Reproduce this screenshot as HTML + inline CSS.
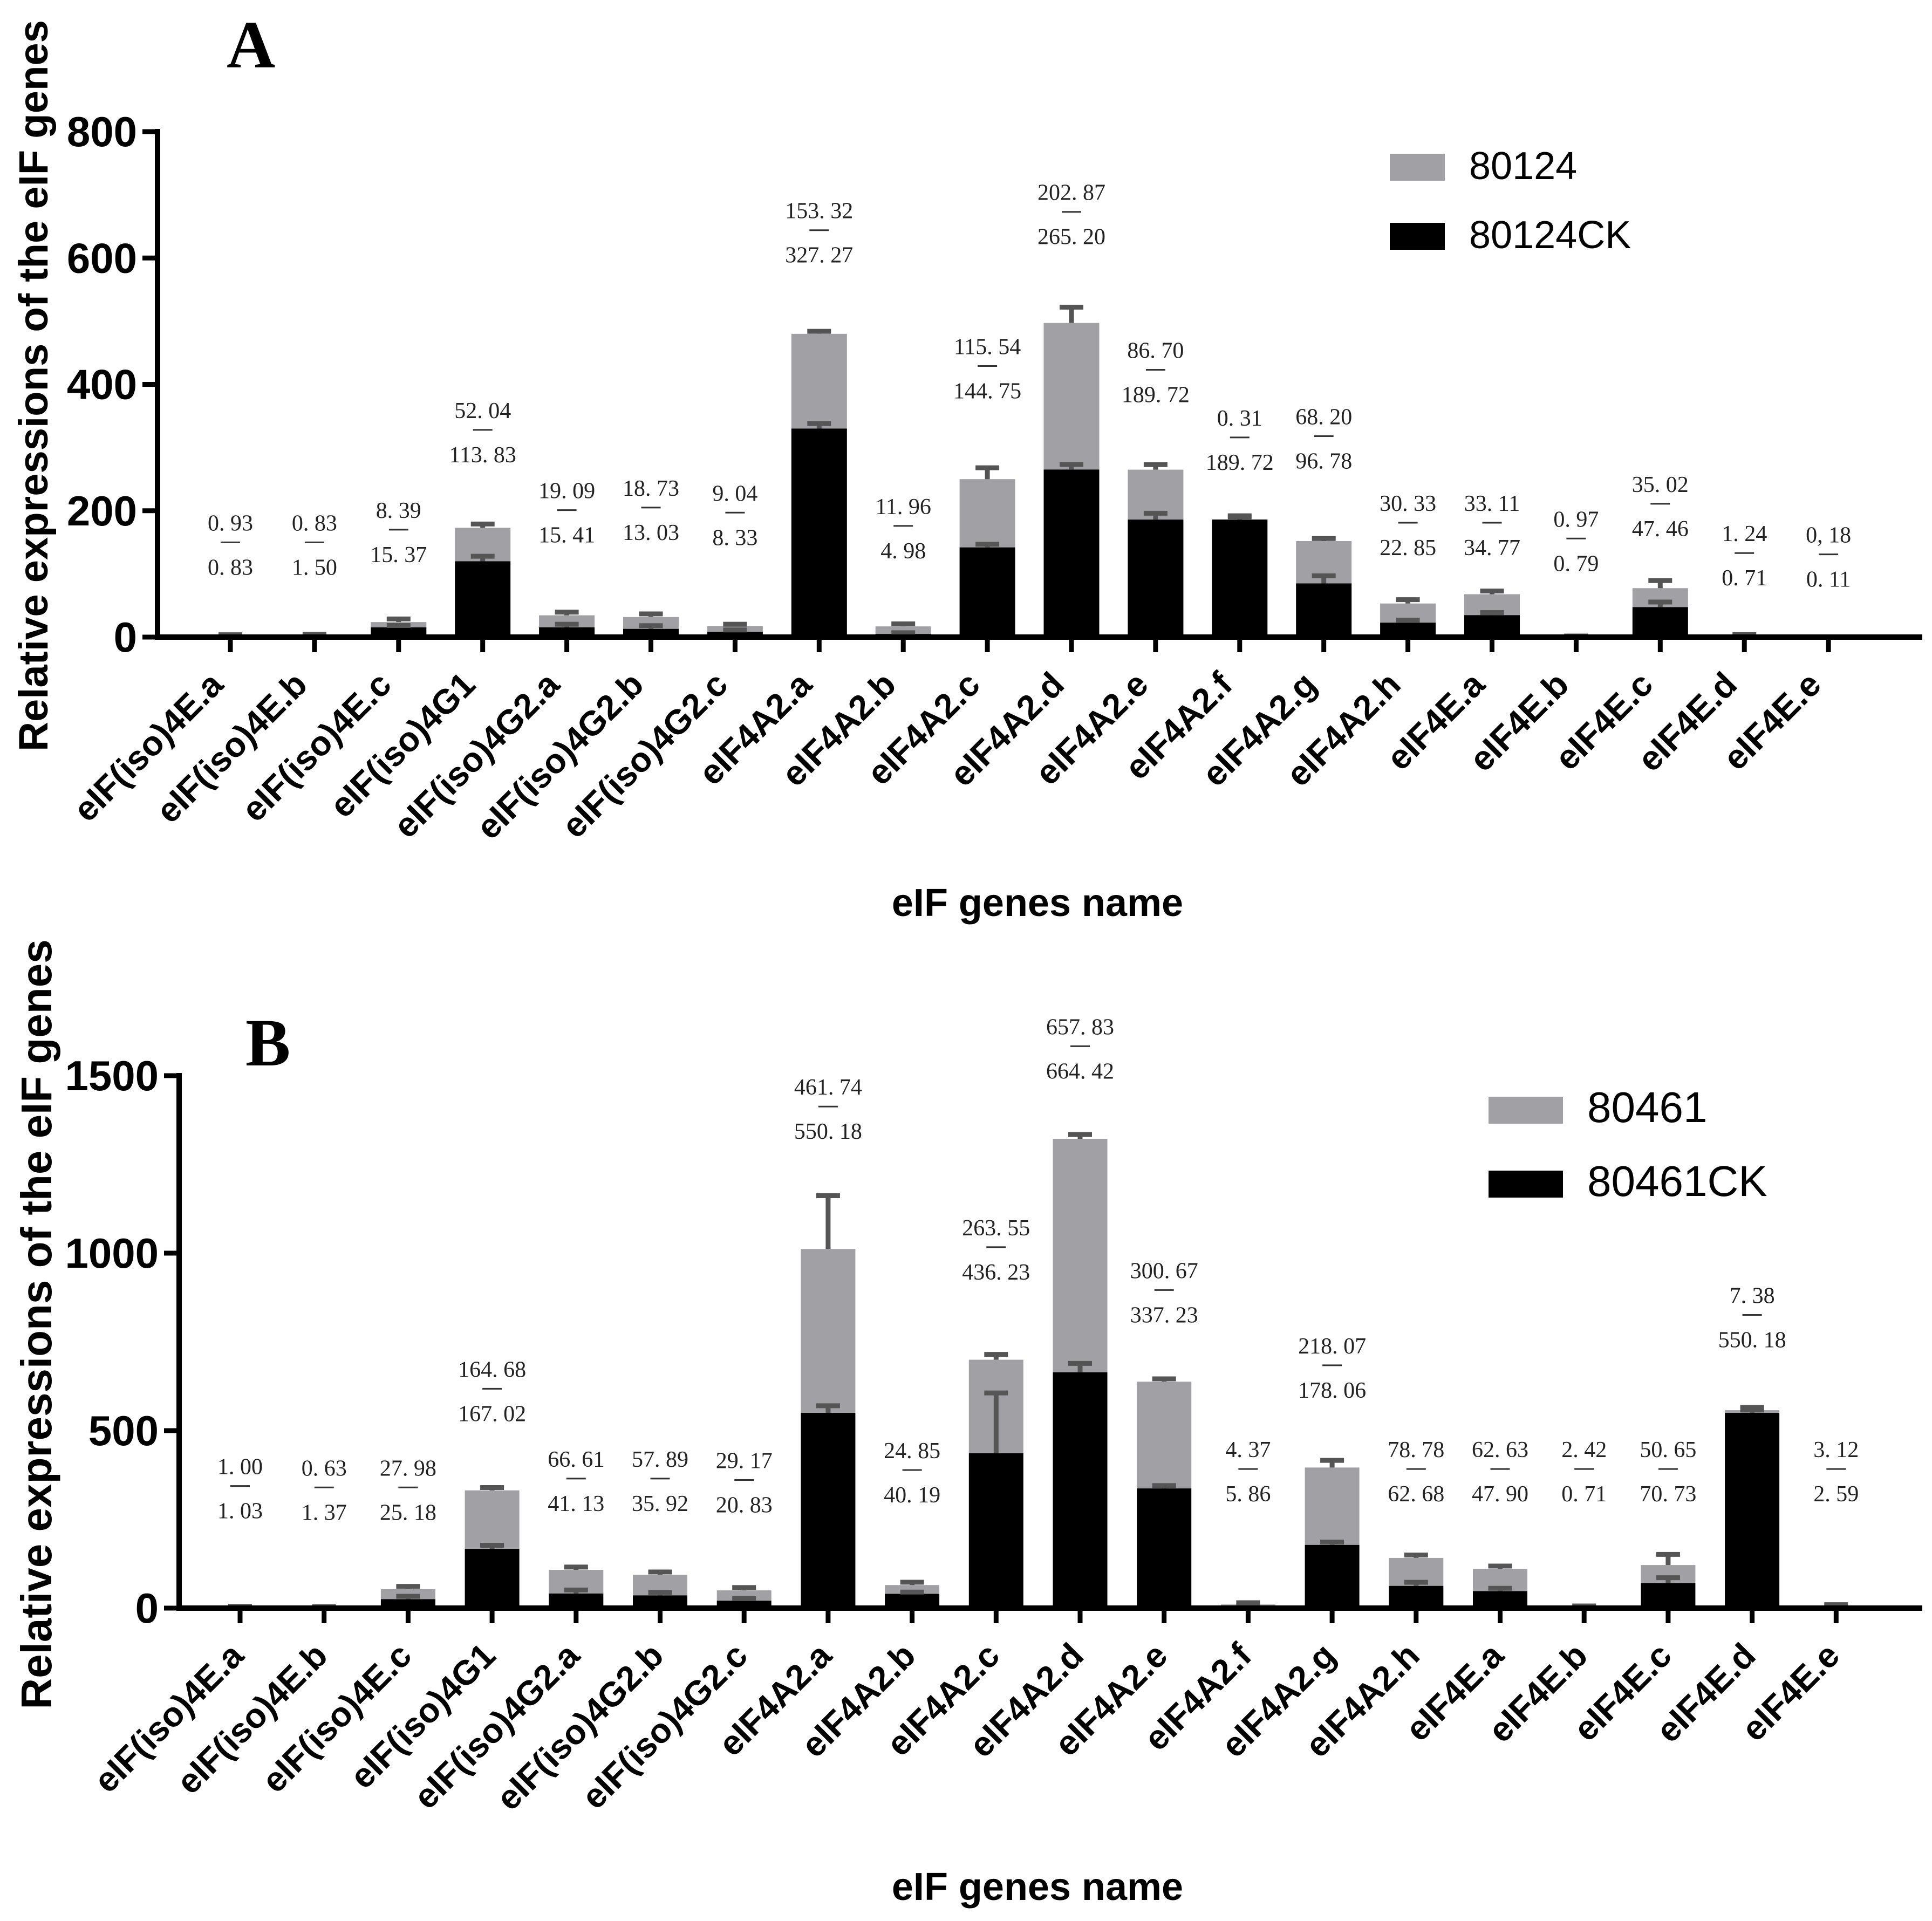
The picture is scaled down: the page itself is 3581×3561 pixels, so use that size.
<!DOCTYPE html>
<html><head><meta charset="utf-8"><style>
html,body{margin:0;padding:0;background:#fff}
svg{display:block}
</style></head><body>
<svg id="chart" width="3581" height="3561" viewBox="0 0 3581 3561" xmlns="http://www.w3.org/2000/svg" font-family="Liberation Sans, sans-serif"></svg>
<script>
const categories=["eIF(iso)4E.a","eIF(iso)4E.b","eIF(iso)4E.c","eIF(iso)4G1","eIF(iso)4G2.a","eIF(iso)4G2.b","eIF(iso)4G2.c","eIF4A2.a","eIF4A2.b","eIF4A2.c","eIF4A2.d","eIF4A2.e","eIF4A2.f","eIF4A2.g","eIF4A2.h","eIF4E.a","eIF4E.b","eIF4E.c","eIF4E.d","eIF4E.e"];
// Panel A (bar heights as drawn)
const aCK=[0.83,1.50,15.37,120,15.41,13.03,8.33,330,4.98,142,265.20,186,186,85,22.85,34.77,0.79,47.46,0.71,0.11];
const aTr=[0.93,0.83,8.39,53,19.09,18.73,9.04,150,11.96,108,232,79,0.31,67,30.33,33.11,0.97,30,1.24,0.18];
const aCKerr=[0,0,3,8,5,5,3,8,2,5,8,10,6,12,4,4,0,8,0,0];
const aTrErr=[2,2,5,6,5,5,3,4,4,18,25,8,4,4,6,5,0,12,2,0];
const aTopTxt=["0. 93","0. 83","8. 39","52. 04","19. 09","18. 73","9. 04","153. 32","11. 96","115. 54","202. 87","86. 70","0. 31","68. 20","30. 33","33. 11","0. 97","35. 02","1. 24","0, 18"];
const aBotTxt=["0. 83","1. 50","15. 37","113. 83","15. 41","13. 03","8. 33","327. 27","4. 98","144. 75","265. 20","189. 72","189. 72","96. 78","22. 85","34. 77","0. 79","47. 46","0. 71","0. 11"];
const aLabelAt=[150,150,170,328,201,205,197,644,176,429,673,423,316,318,181,181,156,211,133,131];
const aTicks=[0,200,400,600,800];
// Panel B
const bCK=[1.03,1.37,25.18,167.02,41.13,35.92,20.83,550.18,40.19,436.23,664.42,337.23,5.86,178.06,62.68,47.90,0.71,70.73,550.18,2.59];
const bTr=[1.00,0.63,27.98,164.68,66.61,57.89,29.17,461.74,24.85,263.55,657.83,300.67,4.37,218.07,78.78,62.63,2.42,50.65,7.38,3.12];
const bCKerr=[0,0,8,10,10,8,6,20,5,170,25,8,2,8,10,8,0,15,8,0];
const bTrErr=[3,2,8,8,8,8,8,150,8,15,12,8,5,20,8,8,3,30,8,4];
const bTopTxt=["1. 00","0. 63","27. 98","164. 68","66. 61","57. 89","29. 17","461. 74","24. 85","263. 55","657. 83","300. 67","4. 37","218. 07","78. 78","62. 63","2. 42","50. 65","7. 38","3. 12"];
const bBotTxt=["1. 03","1. 37","25. 18","167. 02","41. 13","35. 92","20. 83","550. 18","40. 19","436. 23","664. 42","337. 23","5. 86","178. 06","62. 68","47. 90","0. 71","70. 73","550. 18","2. 59"];
const bLabelAt=[344,340,340,618,365,365,361,1413,389,1017,1583,896,392,684,392,392,392,392,826,392];
const bTicks=[0,500,1000,1500];

const svg=document.getElementById('chart');
const NS="http://www.w3.org/2000/svg";
function mk(tag,attrs,parent){const e=document.createElementNS(NS,tag);for(const k in attrs)e.setAttribute(k,attrs[k]);(parent||svg).appendChild(e);return e;}

function panel(o){
  const g=mk('g',{});
  
  
  const y=v=>o.y0-(v/o.max)*(o.y0-o.yTop);
  const x=i=>o.x0+i*o.step;
  const L=mk('text',{x:o.letterX,y:o.letterY,'font-family':'Liberation Serif, serif','font-weight':'bold','font-size':125},g);L.textContent=o.letter;
  
  
  categories.forEach((c,i)=>{
    const cx=x(i),bw=o.bw;
    const ck=o.ck[i],tr=o.tr[i];
    const gr=mk('rect',{x:cx-bw/2,y:y(ck+tr),width:bw,height:y(ck)-y(ck+tr),fill:'#a1a1a5'},g);
    
    
    const bk=mk('rect',{x:cx-bw/2,y:y(ck),width:bw,height:o.y0-y(ck),fill:'#000'},g);
    
    
    [[ck,o.ckErr[i]],[ck+tr,o.trErr[i]]].forEach(([v,e])=>{
      const yt=y(v+e);
      const eb=mk('path',{d:`M${cx} ${y(v)}V${yt}M${cx-22} ${yt}H${cx+22}`,stroke:'#555',"stroke-width":9,fill:'none'},g);
      
      
    });
    const ly=y(o.labelAt[i]);
    const t1=mk('text',{x:cx,y:ly-22,'text-anchor':'middle','font-family':'Liberation Serif, serif','font-size':42,fill:'#222'},g);t1.textContent=o.topTxt[i];
    
    
    mk('line',{x1:cx-18,x2:cx+18,y1:ly,y2:ly,stroke:'#333','stroke-width':3},g);
    const t2=mk('text',{x:cx,y:ly+60,'text-anchor':'middle','font-family':'Liberation Serif, serif','font-size':42,fill:'#222'},g);t2.textContent=o.botTxt[i];
    
    
    mk('line',{x1:cx,x2:cx,y1:o.y0,y2:o.y0+28,stroke:'#000','stroke-width':9},g);
    const xl=mk('text',{x:0,y:0,'text-anchor':'end','font-weight':'bold','font-size':64,transform:`translate(${cx+o.lblDx},${o.y0+o.lblDy}) rotate(-45)`},g);xl.textContent=c;
    
    
  });
  mk('line',{x1:o.ax-5,x2:o.xEnd,y1:o.y0,y2:o.y0,stroke:'#000','stroke-width':10},g);
  mk('line',{x1:o.ax,x2:o.ax,y1:o.y0+5,y2:o.yTop-5,stroke:'#000','stroke-width':10},g);
  o.ticks.forEach(t=>{
    mk('line',{x1:o.ax-28,x2:o.ax,y1:y(t),y2:y(t),stroke:'#000','stroke-width':9},g);
    const tl=mk('text',{x:o.ax-38,y:y(t)+27,'text-anchor':'end','font-weight':'bold','font-size':78},g);tl.textContent=t;
    
    
  });
  const yt=mk('text',{x:0,y:0,'text-anchor':'middle','font-weight':'bold','font-size':o.ytF,transform:`translate(${o.ytX},${o.ytY}) rotate(-90)`},g);yt.textContent='Relative expressions of the eIF genes';
  
  
  const xt=mk('text',{x:1923,y:o.xtY,'text-anchor':'middle','font-weight':'bold','font-size':72},g);xt.textContent='eIF genes name';
  
  
  o.legend.forEach((lg,k)=>{
    const ly=o.legY+k*o.legGap;
    const r=mk('rect',{x:o.legX,y:ly,width:o.legW,height:50,fill:k?'#000':'#a1a1a5'},g);
    
    
    const lt=mk('text',{x:o.legX+o.legW+45,y:ly+47,'font-size':o.legF},g);lt.textContent=lg;
    
    
  });
}
panel({name:'panel-a',letter:'A',letterX:420,letterY:125,x0:427,step:155.9,bw:103,y0:1181,yTop:244,max:800,ax:292,xEnd:3563,
  ck:aCK,tr:aTr,ckErr:aCKerr,trErr:aTrErr,topTxt:aTopTxt,botTxt:aBotTxt,labelAt:aLabelAt,ticks:aTicks,
  ytX:88,ytY:715,ytF:76,xtY:1698,lblDx:-10,lblDy:92,legend:['80124','80124CK'],legX:2576,legY:285,legGap:128,legW:102,legF:72});
panel({name:'panel-b',letter:'B',letterX:455,letterY:1975,x0:445,step:155.7,bw:101,y0:2981,yTop:1994,max:1500,ax:332,xEnd:3563,
  ck:bCK,tr:bTr,ckErr:bCKerr,trErr:bTrErr,topTxt:bTopTxt,botTxt:bBotTxt,labelAt:bLabelAt,ticks:bTicks,
  ytX:95,ytY:2455,ytF:80,xtY:3522,lblDx:10,lblDy:92,legend:['80461','80461CK'],legX:2759,legY:2033,legGap:137,legW:138,legF:80});
</script>
</body></html>
